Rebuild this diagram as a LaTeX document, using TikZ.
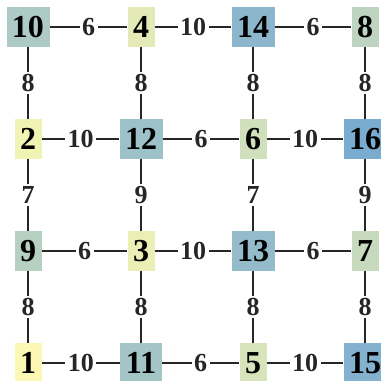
\documentclass[tikz,border=0pt]{standalone}
\usepackage{fontspec}
\setmainfont{Liberation Serif}
\definecolor{lowc}{RGB}{250,248,178}
\definecolor{highc}{RGB}{122,172,208}
\tikzstyle{link} = [line width=1.3pt, black!85]
\tikzstyle{cost} = [fill=white, inner sep=2.5pt, font=\bfseries\fontsize{26}{26}\selectfont]
\tikzset{cell/.style={rectangle, fill=highc!#1!lowc, minimum height=40pt, inner xsep=5.5pt,
    font=\bfseries\fontsize{32}{32}\selectfont}}

\begin{document}
\begin{tikzpicture}[x=1pt, y=-1pt]
    \fill[white] (0,0) rectangle (381,381);
    \useasboundingbox (0,0) rectangle (381,381);
    % grid cells, shade by value
    \node[cell=60] (v10) at (28,27) {10};
    \node[cell=18] (v4) at (141,27) {4};
    \node[cell=87] (v14) at (253,27) {14};
    \node[cell=47] (v8) at (365,27) {8};
    \node[cell=7] (v2) at (28,139) {2};
    \node[cell=73] (v12) at (141,139) {12};
    \node[cell=33] (v6) at (253,139) {6};
    \node[cell=100] (v16) at (365,139) {16};
    \node[cell=53] (v9) at (28,251) {9};
    \node[cell=12] (v3) at (141,251) {3};
    \node[cell=80] (v13) at (253,251) {13};
    \node[cell=40] (v7) at (365,251) {7};
    \node[cell=0] (v1) at (28,363) {1};
    \node[cell=67] (v11) at (141,363) {11};
    \node[cell=27] (v5) at (253,363) {5};
    \node[cell=93] (v15) at (365,363) {15};
    % rows
    \draw[link] (v10) -- node[cost] {6} (v4);
    \draw[link] (v4) -- node[cost] {10} (v14);
    \draw[link] (v14) -- node[cost] {6} (v8);
    \draw[link] (v2) -- node[cost] {10} (v12);
    \draw[link] (v12) -- node[cost] {6} (v6);
    \draw[link] (v6) -- node[cost] {10} (v16);
    \draw[link] (v9) -- node[cost] {6} (v3);
    \draw[link] (v3) -- node[cost] {10} (v13);
    \draw[link] (v13) -- node[cost] {6} (v7);
    \draw[link] (v1) -- node[cost] {10} (v11);
    \draw[link] (v11) -- node[cost] {6} (v5);
    \draw[link] (v5) -- node[cost] {10} (v15);
    % columns
    \draw[link] (v10) -- node[cost] {8} (v2);
    \draw[link] (v4) -- node[cost] {8} (v12);
    \draw[link] (v14) -- node[cost] {8} (v6);
    \draw[link] (v8) -- node[cost] {8} (v16);
    \draw[link] (v2) -- node[cost] {7} (v9);
    \draw[link] (v12) -- node[cost] {9} (v3);
    \draw[link] (v6) -- node[cost] {7} (v13);
    \draw[link] (v16) -- node[cost] {9} (v7);
    \draw[link] (v9) -- node[cost] {8} (v1);
    \draw[link] (v3) -- node[cost] {8} (v11);
    \draw[link] (v13) -- node[cost] {8} (v5);
    \draw[link] (v7) -- node[cost] {8} (v15);
\end{tikzpicture}
\end{document}
